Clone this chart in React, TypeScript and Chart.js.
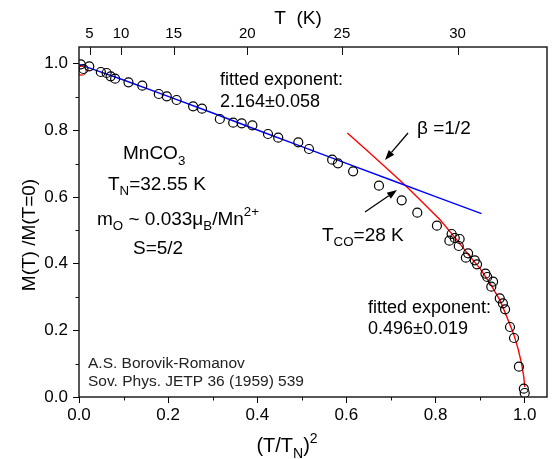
import React, { useEffect, useRef } from "react";
import { Chart, registerables } from "chart.js";

Chart.register(...registerables);

const FONT = '"Liberation Sans", Arial, Helvetica, sans-serif';

// Néel temperature used for the top axis T -> (T/TN)^2
const TN = 32.55;
const topTemps = [5, 10, 15, 20, 25, 30];

const xMajor = [0, 0.2, 0.4, 0.6, 0.8, 1.0];
const xMinor = [0.1, 0.3, 0.5, 0.7, 0.9];
const yMajor = [0, 0.2, 0.4, 0.6, 0.8, 1.0];
const yMinor = [0.1, 0.3, 0.5, 0.7, 0.9];

// measured points: x = (T/TN)^2, y = M(T)/M(T=0)
const dataX = [
  0.004, 0.010, 0.023, 0.049, 0.062, 0.071, 0.081, 0.111, 0.142, 0.179,
  0.197, 0.219, 0.256, 0.276, 0.316, 0.346, 0.365, 0.389, 0.424, 0.447,
  0.492, 0.516, 0.568, 0.581, 0.615, 0.673, 0.724, 0.759, 0.803, 0.836,
  0.843, 0.854, 0.831, 0.852, 0.873, 0.868, 0.888, 0.893, 0.912, 0.916,
  0.929, 0.925, 0.944, 0.951, 0.956, 0.967, 0.976, 0.987, 0.998, 1.000,
];
const dataY = [
  0.998, 0.984, 0.992, 0.975, 0.972, 0.962, 0.955, 0.944, 0.934, 0.909,
  0.902, 0.891, 0.872, 0.865, 0.834, 0.823, 0.821, 0.815, 0.789, 0.778,
  0.764, 0.744, 0.712, 0.701, 0.677, 0.634, 0.590, 0.553, 0.514, 0.489,
  0.477, 0.474, 0.469, 0.453, 0.431, 0.418, 0.410, 0.398, 0.370, 0.360,
  0.346, 0.331, 0.296, 0.281, 0.263, 0.210, 0.177, 0.091, 0.025, 0.012,
];

// one red circle near the origin
const redPointX = [0.006];
const redPointY = [0.979];

// low-temperature fit (blue)
const blueX = [0, 0.1, 0.2, 0.3, 0.4, 0.5, 0.6, 0.7, 0.8, 0.903];
const blueY = [0.998, 0.951, 0.902, 0.852, 0.801, 0.751, 0.701, 0.651, 0.601, 0.550];

// critical fit (red)
const redX = [0.602, 0.65, 0.70, 0.733, 0.77, 0.811, 0.845, 0.875, 0.90, 0.925, 0.945, 0.96, 0.975, 0.985, 0.993, 0.998, 1.0];
const redY = [0.792, 0.735, 0.674, 0.634, 0.585, 0.530, 0.476, 0.425, 0.385, 0.335, 0.289, 0.240, 0.190, 0.145, 0.100, 0.060, 0.030];

type Part = [string, string?];

function fnt(size: number) {
  return `${size}px ${FONT}`;
}

function drawRich(ctx: CanvasRenderingContext2D, parts: Part[], x: number, y: number, size: number, align: "left" | "center" = "left") {
  const widths = parts.map(([t, k]) => {
    ctx.font = fnt(k ? size * 0.7 : size);
    return ctx.measureText(t).width;
  });
  const total = widths.reduce((a, b) => a + b, 0);
  let cx = align === "center" ? x - total / 2 : x;
  ctx.textAlign = "left";
  ctx.textBaseline = "alphabetic";
  parts.forEach(([t, k], i) => {
    const s = k ? size * 0.7 : size;
    const dy = k === "sub" ? size * 0.3 : k === "sup" ? -size * 0.45 : 0;
    ctx.font = fnt(s);
    ctx.fillText(t, cx, y + dy);
    cx += widths[i];
  });
}

function arrow(ctx: CanvasRenderingContext2D, x1: number, y1: number, x2: number, y2: number) {
  const ang = Math.atan2(y2 - y1, x2 - x1);
  const L = 10;
  const W = 3.6;
  const bx = x2 - L * Math.cos(ang);
  const by = y2 - L * Math.sin(ang);
  ctx.beginPath();
  ctx.moveTo(x1, y1);
  ctx.lineTo(bx, by);
  ctx.stroke();
  ctx.beginPath();
  ctx.moveTo(x2, y2);
  ctx.lineTo(bx + W * Math.sin(ang), by - W * Math.cos(ang));
  ctx.lineTo(bx - W * Math.sin(ang), by + W * Math.cos(ang));
  ctx.closePath();
  ctx.fill();
}

const decorPlugin = {
  id: "decor",
  afterDraw(chart: any) {
    const ctx: CanvasRenderingContext2D = chart.ctx;
    const { left, right, top, bottom } = chart.chartArea;
    const sx = chart.scales.x;
    const sy = chart.scales.y;
    const st = chart.scales.xTop;
    ctx.save();
    ctx.strokeStyle = "#111";
    ctx.fillStyle = "#000";

    // frame
    ctx.lineWidth = 1.4;
    ctx.strokeRect(left, top, right - left, bottom - top);

    // minor ticks
    ctx.lineWidth = 1;
    ctx.beginPath();
    xMinor.forEach((v) => {
      const px = Math.round(sx.getPixelForValue(v)) + 0.5;
      ctx.moveTo(px, bottom);
      ctx.lineTo(px, bottom + 3.5);
    });
    yMinor.forEach((v) => {
      const py = Math.round(sy.getPixelForValue(v)) + 0.5;
      ctx.moveTo(left, py);
      ctx.lineTo(left - 3.5, py);
    });
    // top ticks pointing inward
    topTemps.forEach((t) => {
      const px = Math.round(st.getPixelForValue((t / TN) ** 2)) + 0.5;
      ctx.moveTo(px, top);
      ctx.lineTo(px, top + 8);
    });
    ctx.stroke();

    // axis titles
    ctx.fillStyle = "#000";
    drawRich(ctx, [["T  (K)"]], 298, 24, 19, "center");
    drawRich(ctx, [["(T/T"], ["N", "sub"], [")"], ["2", "sup"]], 287, 452, 20, "center");
    ctx.save();
    ctx.translate(35, 235);
    ctx.rotate(-Math.PI / 2);
    drawRich(ctx, [["M(T) /M(T=0)"]], 0, 0, 19, "center");
    ctx.restore();

    // annotations
    drawRich(ctx, [["fitted exponent:"]], 220, 84.5, 18);
    drawRich(ctx, [["2.164±0.058"]], 220, 106.5, 18);
    drawRich(ctx, [["fitted exponent:"]], 368, 313, 18);
    drawRich(ctx, [["0.496±0.019"]], 368, 334, 18);

    drawRich(ctx, [["MnCO"], ["3", "sub"]], 123, 159, 19);
    drawRich(ctx, [["T"], ["N", "sub"], ["=32.55 K"]], 108, 189.5, 19);
    drawRich(ctx, [["m"], ["O", "sub"], [" ~ 0.033\u03bc"], ["B", "sub"], ["/Mn"], ["2+", "sup"]], 97, 224.5, 19);
    drawRich(ctx, [["S=5/2"]], 133, 253.5, 19);

    drawRich(ctx, [["\u03b2 =1/2"]], 417, 134, 19);
    drawRich(ctx, [["T"], ["CO", "sub"], ["=28 K"]], 322, 240.5, 19);

    ctx.fillStyle = "#222";
    drawRich(ctx, [["A.S. Borovik-Romanov"]], 88, 367.5, 15.5);
    drawRich(ctx, [["Sov. Phys. JETP 36 (1959) 539"]], 88, 385.5, 15.5);

    // arrows
    ctx.strokeStyle = "#000";
    ctx.fillStyle = "#000";
    ctx.lineWidth = 1.3;
    arrow(ctx, 408, 133, 385, 160);
    arrow(ctx, 365, 212, 397, 190);

    ctx.restore();
  },
};

export default function App() {
  const ref = useRef<HTMLCanvasElement | null>(null);

  useEffect(() => {
    if (!ref.current) return;
    const pts = dataX.map((x, i) => ({ x, y: dataY[i] }));
    const redPts = redPointX.map((x, i) => ({ x, y: redPointY[i] }));
    const blue = blueX.map((x, i) => ({ x, y: blueY[i] }));
    const red = redX.map((x, i) => ({ x, y: redY[i] }));

    const tickFont = { family: FONT, size: 17 };

    const chart = new Chart(ref.current, {
      type: "scatter",
      data: {
        datasets: [
          {
            data: pts,
            pointStyle: "circle",
            pointRadius: 4.5,
            borderColor: "#000",
            backgroundColor: "rgba(0,0,0,0)",
            borderWidth: 1.2,
            showLine: false,
          },
          {
            data: redPts,
            pointStyle: "circle",
            pointRadius: 4.5,
            borderColor: "#e00000",
            backgroundColor: "rgba(0,0,0,0)",
            borderWidth: 1.2,
            showLine: false,
          },
          {
            data: blue,
            showLine: true,
            pointRadius: 0,
            borderColor: "#0000ff",
            borderWidth: 1.4,
            tension: 0,
          },
          {
            data: red,
            showLine: true,
            pointRadius: 0,
            borderColor: "#ff0000",
            borderWidth: 1.4,
            tension: 0,
          },
        ],
      } as any,
      options: {
        animation: false,
        responsive: false,
        maintainAspectRatio: false,
        events: [],
        layout: { padding: { left: 0, right: 11, top: 0, bottom: 0 } },
        plugins: { legend: { display: false }, tooltip: { enabled: false }, title: { display: false } },
        scales: {
          x: {
            type: "linear",
            position: "bottom",
            min: 0,
            max: 1.05,
            afterFit: (s: any) => {
              s.height = 62;
            },
            afterBuildTicks: (s: any) => {
              s.ticks = xMajor.map((v) => ({ value: v }));
            },
            ticks: {
              callback: (v: any) => Number(v).toFixed(1),
              font: tickFont,
              color: "#000",
              padding: 2,
              maxRotation: 0,
              autoSkip: false,
            },
            grid: { drawOnChartArea: false, drawTicks: true, tickLength: 6, color: "#000", tickWidth: 1 },
            border: { display: false },
          },
          xTop: {
            type: "linear",
            position: "top",
            min: 0,
            max: 1.05,
            afterFit: (s: any) => {
              s.height = 47;
            },
            afterBuildTicks: (s: any) => {
              s.ticks = topTemps.map((t) => ({ value: (t / TN) ** 2 }));
            },
            ticks: {
              callback: (_v: any, i: number) => String(topTemps[i]),
              font: { family: FONT, size: 15 },
              color: "#000",
              padding: 4,
              maxRotation: 0,
              autoSkip: false,
            },
            grid: { display: false, drawTicks: false },
            border: { display: false },
          },
          y: {
            type: "linear",
            position: "left",
            min: 0,
            max: 1.05,
            afterFit: (s: any) => {
              s.width = 79;
            },
            afterBuildTicks: (s: any) => {
              s.ticks = yMajor.map((v) => ({ value: v }));
            },
            ticks: {
              callback: (v: any) => Number(v).toFixed(1),
              font: tickFont,
              color: "#000",
              padding: 5,
              autoSkip: false,
            },
            grid: { drawOnChartArea: false, drawTicks: true, tickLength: 6, color: "#000", tickWidth: 1 },
            border: { display: false },
          },
        },
      } as any,
      plugins: [decorPlugin],
    });
    return () => chart.destroy();
  }, []);

  return (
    <div style={{ position: "absolute", left: 0, top: 0, width: 558, height: 459, background: "#fff" }}>
      <canvas ref={ref} width={558} height={459} style={{ display: "block" }} />
    </div>
  );
}
